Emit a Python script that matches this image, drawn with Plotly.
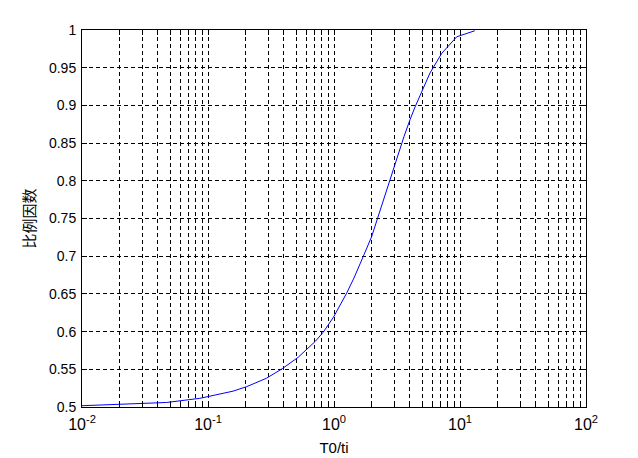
import plotly.graph_objects as go

# T0/ti values (log axis)
t_ratio = [0.01, 0.02, 0.047, 0.086, 0.1, 0.158, 0.203, 0.27, 0.29, 0.39, 0.52,
           0.71, 0.82, 0.99, 1.26, 1.44, 1.61, 1.73, 1.99, 2.21, 2.78, 3.05,
           3.44, 3.6, 4.01, 4.4, 5.12, 5.78, 7.16, 9.42, 13.1]
scale_factor = [0.5017, 0.5035, 0.506, 0.5115, 0.514, 0.521, 0.527, 0.536, 0.538,
                0.551, 0.566, 0.587, 0.599, 0.619, 0.651, 0.671, 0.689, 0.702,
                0.726, 0.750, 0.801, 0.821, 0.850, 0.859, 0.881, 0.898, 0.923,
                0.943, 0.969, 0.991, 0.999]

decades = [0.01, 0.1, 1, 10, 100]
decade_labels = ["10<sup>-2</sup>", "10<sup>-1</sup>", "10<sup>0</sup>",
                 "10<sup>1</sup>", "10<sup>2</sup>"]

# every 1..9 multiple gets a grid line, only decades get a label
x_tickvals = []
x_ticktext = []
for i, d in enumerate(decades):
    if d == 100:
        x_tickvals.append(d)
        x_ticktext.append(decade_labels[i])
        break
    for m in range(1, 10):
        x_tickvals.append(d * m)
        x_ticktext.append(decade_labels[i] if m == 1 else "")

y_tickvals = [0.5, 0.55, 0.6, 0.65, 0.7, 0.75, 0.8, 0.85, 0.9, 0.95, 1]
y_ticktext = ["0.5", "0.55", "0.6", "0.65", "0.7", "0.75", "0.8", "0.85",
              "0.9", "0.95", "1"]

fig = go.Figure()
fig.add_trace(go.Scatter(x=t_ratio, y=scale_factor, mode="lines",
                         line=dict(color="#0000ff", width=1), showlegend=False))

axis_common = dict(
    showline=True, linecolor="black", linewidth=1, mirror="ticks",
    ticks="inside", ticklen=5, tickcolor="black",
    showgrid=True, gridcolor="black", gridwidth=1, griddash="4px,3px",
    zeroline=False,
)

fig.update_xaxes(type="log", range=[-2, 2], tickmode="array",
                 tickvals=x_tickvals, ticktext=x_ticktext,
                 tickfont=dict(family="Liberation Sans, Arial", size=16, color="black"),
                 ticklabelstandoff=3,
                 title=dict(text="T0/ti", standoff=10,
                            font=dict(family="Liberation Sans, Arial", size=15, color="black")),
                 **axis_common)
fig.update_yaxes(range=[0.5, 1], tickmode="array",
                 tickvals=y_tickvals, ticktext=y_ticktext,
                 tickfont=dict(family="Liberation Sans, Arial", size=14, color="black"),
                 ticklabelstandoff=2,
                 title=dict(text="比例因数", standoff=9,
                            font=dict(family="Noto Sans CJK SC", size=15, color="black")),
                 **axis_common)

# page body adds an 8px offset, so margins are trimmed to keep the plot box in place
fig.update_layout(
    width=638, height=458,
    margin=dict(l=74, r=60, t=22, b=59),
    paper_bgcolor="white", plot_bgcolor="white",
)

fig.write_html("out.html")
